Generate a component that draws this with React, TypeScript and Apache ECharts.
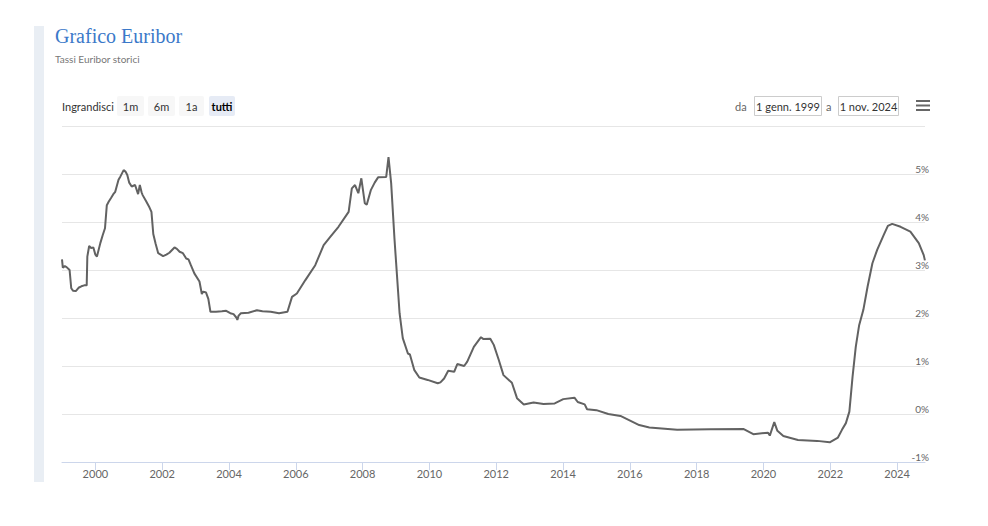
import React, { useEffect, useRef } from "react";
import * as echarts from "echarts";

const dates: string[] = [
  "1999-01-01","1999-01-10","1999-02-01","1999-02-20","1999-03-25","1999-04-12","1999-05-01","1999-06-01","1999-07-01","1999-08-01","1999-09-01","1999-09-28",
  "1999-10-05","1999-10-25","1999-11-15","1999-12-10","2000-01-01","2000-01-18","2000-02-24","2000-03-20","2000-04-15","2000-05-05","2000-05-25","2000-06-20",
  "2000-07-15","2000-08-05","2000-09-10","2000-10-01","2000-11-05","2000-11-25","2000-12-15","2001-01-05","2001-02-01","2001-03-10","2001-04-12","2001-05-01",
  "2001-05-20","2001-06-01","2001-07-12","2001-08-15","2001-09-05","2001-09-25","2001-10-20","2001-11-18","2001-12-15","2002-01-10","2002-02-15","2002-03-20",
  "2002-05-15","2002-06-10","2002-07-10","2002-08-15","2002-09-20","2002-10-15","2002-11-10","2002-12-18","2003-02-12","2003-03-10","2003-03-25","2003-04-25",
  "2003-05-20","2003-06-12","2003-08-12","2003-10-15","2003-12-01","2004-01-15","2004-02-20","2004-03-25","2004-04-01","2004-04-15","2004-05-10","2004-08-01",
  "2004-11-01","2005-01-01","2005-04-01","2005-07-01","2005-10-01","2005-11-20","2006-01-12","2006-04-15","2006-08-01","2006-11-01","2007-01-12","2007-04-12",
  "2007-08-01","2007-09-05","2007-10-10","2007-11-15","2007-12-18","2008-01-25","2008-02-15","2008-04-01","2008-05-12","2008-06-18","2008-09-15","2008-10-10",
  "2008-11-08","2008-12-15","2009-02-08","2009-03-15","2009-05-10","2009-06-01","2009-07-18","2009-09-12","2009-12-12","2010-04-01","2010-05-01","2010-06-10",
  "2010-07-25","2010-09-28","2010-11-01","2011-01-15","2011-02-18","2011-05-01","2011-07-18","2011-08-15","2011-10-28","2011-12-05","2012-01-28","2012-03-20",
  "2012-06-20","2012-08-15","2012-10-28","2013-02-12","2013-06-01","2013-10-01","2014-01-03","2014-05-05","2014-06-10","2014-08-25","2014-09-20","2014-12-31",
  "2015-05-10","2015-09-20","2016-04-12","2016-08-01","2017-06-01","2018-06-01","2019-05-25","2019-09-12","2020-02-20","2020-03-10","2020-04-28","2020-06-01",
  "2020-08-05","2021-01-12","2021-08-10","2021-12-25","2022-03-25","2022-05-08","2022-06-20","2022-07-28","2022-09-01","2022-10-06","2022-11-12","2022-12-28",
  "2023-02-12","2023-04-06","2023-05-28","2023-08-08","2023-09-22","2023-11-08","2024-02-08","2024-05-25","2024-08-25","2024-10-18","2024-10-31"
];

const rates: number[] = [
  3.22,3.05,3.08,3.06,3.0,2.62,2.57,2.56,2.63,2.66,2.68,2.68,
  3.28,3.5,3.46,3.47,3.32,3.28,3.56,3.72,3.87,4.35,4.42,4.5,
  4.58,4.63,4.88,4.95,5.08,5.05,4.98,4.82,4.74,4.77,4.58,4.77,
  4.62,4.56,4.42,4.3,4.21,3.75,3.55,3.35,3.32,3.29,3.32,3.36,
  3.47,3.44,3.38,3.35,3.24,3.22,3.1,2.93,2.76,2.5,2.55,2.53,
  2.4,2.13,2.13,2.14,2.15,2.1,2.08,2.0,1.96,2.05,2.1,2.11,
  2.16,2.14,2.13,2.1,2.13,2.44,2.51,2.79,3.1,3.52,3.69,3.9,
  4.21,4.7,4.77,4.6,4.91,4.39,4.36,4.67,4.82,4.93,4.94,5.35,
  4.81,3.63,2.1,1.58,1.26,1.24,0.92,0.76,0.71,0.64,0.66,0.74,
  0.9,0.88,1.04,1.0,1.09,1.4,1.6,1.56,1.57,1.44,1.13,0.81,
  0.65,0.33,0.2,0.24,0.21,0.22,0.31,0.34,0.25,0.2,0.1,0.08,
  0.0,-0.04,-0.23,-0.28,-0.33,-0.32,-0.31,-0.42,-0.39,-0.45,-0.17,-0.35,
  -0.46,-0.54,-0.56,-0.59,-0.49,-0.33,-0.19,0.05,0.78,1.4,1.85,2.17,
  2.65,3.14,3.42,3.73,3.92,3.96,3.9,3.8,3.56,3.31,3.2
];

const yearTicks: number[] = [2000, 2002, 2004, 2006, 2008, 2010, 2012, 2014, 2016, 2018, 2020, 2022, 2024];
const rangeButtons: string[] = ["1m", "6m", "1a", "tutti"];
const fromDate = "1 genn. 1999";
const toDate = "1 nov. 2024";
const startDate = "1999-01-01";
const endDate = "2024-11-01";

const FONT = "Lato, 'Open Sans', sans-serif";

const toTime = (s: string) => {
  const [y, m, d] = s.split("-").map(Number);
  return Date.UTC(y, m - 1, d);
};

export default function App() {
  const ref = useRef<HTMLDivElement>(null);
  useEffect(() => {
    if (!ref.current) return;
    const chart = echarts.init(ref.current, null, { renderer: "svg" });
    const tickValues = yearTicks.map((y) => Date.UTC(y, 0, 1));
    const btnX = [117, 148, 179, 209];
    const btnW = [27, 27, 25, 26];
    const graphic: any[] = [
      { type: "rect", shape: { x: 34, y: 26, width: 10, height: 456 }, style: { fill: "#e9eef4" } },
      { type: "text", x: 62, y: 106, style: { text: "Ingrandisci", font: `11px ${FONT}`, fill: "#333", verticalAlign: "middle" } },
    ];
    rangeButtons.forEach((b, i) => {
      const sel = i === rangeButtons.length - 1;
      graphic.push({ type: "rect", shape: { x: btnX[i], y: 96, width: btnW[i], height: 20, r: 2 }, style: { fill: sel ? "#e6ebf5" : "#f7f7f7" } });
      graphic.push({ type: "text", x: btnX[i] + btnW[i] / 2, y: 106, style: { text: b, font: `${sel ? "bold " : ""}11px ${FONT}`, fill: sel ? "#000" : "#333", align: "center", verticalAlign: "middle" } });
    });
    graphic.push(
      { type: "text", x: 735, y: 106, style: { text: "da", font: `11px ${FONT}`, fill: "#666", verticalAlign: "middle" } },
      { type: "rect", shape: { x: 754.5, y: 96.5, width: 67, height: 19 }, style: { fill: "#fff", stroke: "#cccccc", lineWidth: 1 } },
      { type: "text", x: 788, y: 106, style: { text: fromDate, font: `11px ${FONT}`, fill: "#333", align: "center", verticalAlign: "middle" } },
      { type: "text", x: 826, y: 106, style: { text: "a", font: `11px ${FONT}`, fill: "#666", verticalAlign: "middle" } },
      { type: "rect", shape: { x: 838.5, y: 96.5, width: 60, height: 19 }, style: { fill: "#fff", stroke: "#cccccc", lineWidth: 1 } },
      { type: "text", x: 868.5, y: 106, style: { text: toDate, font: `11px ${FONT}`, fill: "#333", align: "center", verticalAlign: "middle" } },
      { type: "rect", shape: { x: 916, y: 100, width: 14, height: 2 }, style: { fill: "#666" } },
      { type: "rect", shape: { x: 916, y: 104.5, width: 14, height: 2 }, style: { fill: "#666" } },
      { type: "rect", shape: { x: 916, y: 109, width: 14, height: 2 }, style: { fill: "#666" } }
    );

    chart.setOption({
      animation: false,
      title: {
        text: "Grafico Euribor",
        subtext: "Tassi Euribor storici",
        left: 50,
        top: 21,
        itemGap: 8,
        textStyle: { fontFamily: "'Liberation Serif', serif", fontSize: 20, fontWeight: "normal", color: "#3b79c9" },
        subtextStyle: { fontFamily: FONT, fontSize: 10, color: "#777" },
      },
      graphic,
      grid: { left: 62, right: 1, top: 126, bottom: 64 },
      xAxis: {
        type: "value",
        min: toTime(startDate),
        max: toTime(endDate),
        axisLine: { onZero: false, lineStyle: { color: "#ccd6eb", width: 1 } },
        axisTick: { show: true, length: 8, lineStyle: { color: "#ccd6eb" }, customValues: tickValues },
        splitLine: { show: false },
        axisLabel: {
          customValues: tickValues,
          formatter: (v: number) => String(new Date(v).getUTCFullYear()),
          color: "#666",
          fontSize: 11,
          fontFamily: FONT,
          margin: 6,
          showMinLabel: true,
          showMaxLabel: true,
          hideOverlap: false,
        },
      },
      yAxis: {
        type: "value",
        position: "right",
        min: -1,
        max: 6,
        interval: 1,
        axisLine: { show: false },
        axisTick: { show: false },
        splitLine: { lineStyle: { color: "#e6e6e6", width: 1 } },
        axisLabel: {
          inside: true,
          margin: -4,
          formatter: (v: number) => (v === 6 ? "" : `${v}%`),
          color: "#666",
          fontSize: 10,
          fontFamily: FONT,
          verticalAlign: "bottom",
          padding: [0, 0, 0, 0],
        },
      },
      series: [
        {
          type: "line",
          data: dates.map((d, i) => [toTime(d), rates[i]]),
          showSymbol: false,
          lineStyle: { color: "#626262", width: 2 },
          itemStyle: { color: "#626262" },
        },
      ],
    });
    return () => chart.dispose();
  }, []);
  return (
    <div style={{ position: "absolute", left: 0, top: 0, width: 988, height: 526, background: "#fff" }}>
      <div style={{ position: "absolute", left: 0, top: 0, width: 932, height: 526, overflow: "hidden" }}>
        <div ref={ref} style={{ width: 932, height: 526 }} />
      </div>
    </div>
  );
}
